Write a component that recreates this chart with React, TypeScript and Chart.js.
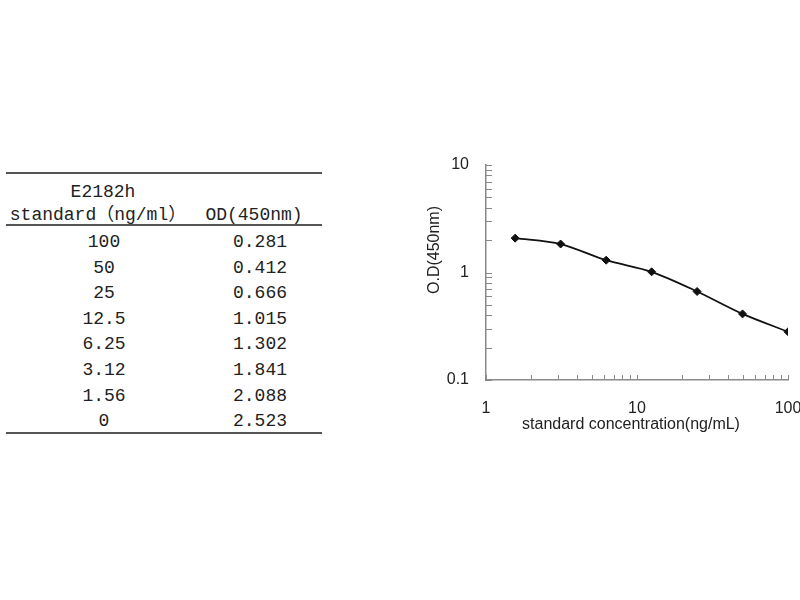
import React, { useEffect, useRef } from "react";
import { Chart, registerables } from "chart.js";

Chart.register(...registerables);

// ---- data ----
const tableTitle = "E2182h";
const colHeaders = ["standard（ng/ml）", "OD(450nm)"];
const standardLabels = ["100", "50", "25", "12.5", "6.25", "3.12", "1.56", "0"];
const concentrations = [100, 50, 25, 12.5, 6.25, 3.12, 1.56, 0];
const odValues = [0.281, 0.412, 0.666, 1.015, 1.302, 1.841, 2.088, 2.523];
const xAxisTitle = "standard concentration(ng/mL)";
const yAxisTitle = "O.D(450nm)";
const xRange = [1, 100];
const yRange = [0.1, 10];

const AXIS_COLOR = "#8a8a8a";
const TEXT_COLOR = "#222";

const isDecade = (v: number) => {
  const l = Math.log10(v);
  return Math.abs(l - Math.round(l)) < 1e-9;
};

const logTickValues = (min: number, max: number) => {
  const out: number[] = [];
  for (let e = Math.floor(Math.log10(min)); e <= Math.ceil(Math.log10(max)); e++) {
    for (let m = 1; m <= 9; m++) {
      const v = m * Math.pow(10, e);
      if (v >= min - 1e-12 && v <= max + 1e-12) out.push(v);
    }
  }
  return out;
};

const tickPlugin = {
  id: "insideTicks",
  afterDraw(chart: any) {
    const { ctx, chartArea, scales } = chart;
    ctx.save();
    ctx.strokeStyle = AXIS_COLOR;
    ctx.lineWidth = 1;
    ctx.beginPath();
    for (const v of logTickValues(yRange[0], yRange[1])) {
      const y = Math.round(scales.y.getPixelForValue(v)) + 0.5;
      ctx.moveTo(chartArea.left, y);
      ctx.lineTo(chartArea.left + 6, y);
    }
    for (const v of logTickValues(xRange[0], xRange[1])) {
      const x = Math.round(scales.x.getPixelForValue(v)) + 0.5;
      ctx.moveTo(x, chartArea.bottom);
      ctx.lineTo(x, chartArea.bottom - 5);
    }
    ctx.stroke();
    // axis titles
    ctx.fillStyle = TEXT_COLOR;
    ctx.font = "16px 'Liberation Sans', Arial, sans-serif";
    ctx.textAlign = "center";
    ctx.textBaseline = "middle";
    ctx.fillText(xAxisTitle, 231, chartArea.bottom + 45);
    ctx.translate(chartArea.left - 51, chartArea.top + 85);
    ctx.rotate(-Math.PI / 2);
    ctx.fillText(yAxisTitle, 0, 0);
    ctx.restore();
  },
};

function OdChart() {
  const ref = useRef<HTMLCanvasElement | null>(null);
  useEffect(() => {
    if (!ref.current) return;
    const points = concentrations
      .map((c, i) => ({ x: c, y: odValues[i] }))
      .filter((p) => p.x > 0)
      .sort((a, b) => a.x - b.x);
    const chart = new Chart(ref.current, {
      type: "line",
      data: {
        datasets: [
          {
            data: points,
            borderColor: "#111",
            backgroundColor: "#111",
            borderWidth: 1.8,
            pointStyle: "rectRot",
            pointRadius: 4,
            pointBorderWidth: 1,
            tension: 0.3,
            fill: false,
          },
        ],
      },
      options: {
        animation: false,
        responsive: false,
        devicePixelRatio: 1,
        layout: { padding: { left: 0, right: 12, top: 25, bottom: 10 } },
        plugins: { legend: { display: false }, tooltip: { enabled: false } },
        scales: {
          x: {
            type: "logarithmic",
            min: xRange[0],
            max: xRange[1],
            grid: { display: false, drawTicks: false },
            border: { display: true, color: AXIS_COLOR, width: 1.5 },
            ticks: {
              autoSkip: false,
              maxRotation: 0,
              padding: 19,
              color: TEXT_COLOR,
              font: { family: "'Liberation Sans', Arial, sans-serif", size: 16 },
              callback: (v: any) => (isDecade(Number(v)) ? String(Number(v)) : ""),
            },
            afterFit: (s: any) => {
              s.height = 60;
              s.paddingLeft = 0;
              s.paddingRight = 0;
            },
          },
          y: {
            type: "logarithmic",
            min: yRange[0],
            max: yRange[1],
            grid: { display: false, drawTicks: false },
            border: { display: true, color: AXIS_COLOR, width: 1.5 },
            ticks: {
              autoSkip: false,
              padding: 17,
              color: TEXT_COLOR,
              font: { family: "'Liberation Sans', Arial, sans-serif", size: 16 },
              callback: (v: any) => (isDecade(Number(v)) ? String(Number(v)) : ""),
            },
            afterFit: (s: any) => {
              s.width = 86;
              s.paddingTop = 0;
              s.paddingBottom = 0;
            },
          },
        },
      },
      plugins: [tickPlugin],
    } as any);
    return () => chart.destroy();
  }, []);
  return (
    <canvas
      ref={ref}
      width={400}
      height={310}
      style={{ position: "absolute", left: 400, top: 140, width: 400, height: 310 }}
    />
  );
}

const monoFont = "'Liberation Mono', 'Noto Sans CJK SC', monospace";

function Cell({ text, cx, cy }: { text: string; cx: number; cy: number }) {
  return (
    <div
      style={{
        position: "absolute",
        left: cx - 120,
        top: cy - 13,
        width: 240,
        height: 26,
        lineHeight: "26px",
        textAlign: "center",
        whiteSpace: "pre",
        fontFamily: monoFont,
        fontSize: 18,
        color: TEXT_COLOR,
      }}
    >
      {text}
    </div>
  );
}

function Rule({ y }: { y: number }) {
  return (
    <div
      style={{
        position: "absolute",
        left: 6,
        top: y - 1,
        width: 316,
        height: 2,
        background: "#555",
      }}
    />
  );
}

export default function App() {
  const rowY0 = 242;
  const rowStep = 25.6;
  return (
    <div
      style={{
        position: "absolute",
        left: 0,
        top: 0,
        width: 800,
        height: 600,
        background: "#fff",
        overflow: "hidden",
      }}
    >
      <Rule y={173} />
      <Cell text={tableTitle} cx={103} cy={192} />
      <Cell text={colHeaders[0]} cx={98} cy={215} />
      <Cell text={colHeaders[1]} cx={254} cy={215} />
      <Rule y={225} />
      {standardLabels.map((s, i) => (
        <Cell key={"s" + i} text={s} cx={104} cy={rowY0 + i * rowStep} />
      ))}
      {odValues.map((v, i) => (
        <Cell key={"v" + i} text={v.toFixed(3)} cx={260} cy={rowY0 + i * rowStep} />
      ))}
      <Rule y={433} />
      <OdChart />
    </div>
  );
}
